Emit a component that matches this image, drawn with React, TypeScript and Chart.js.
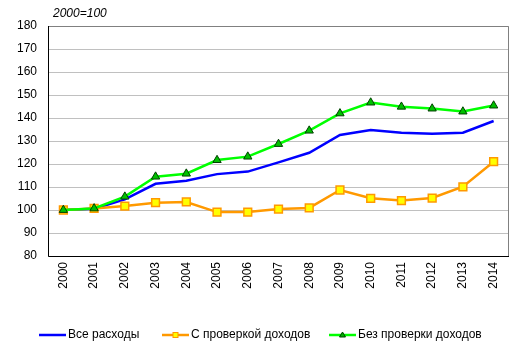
import React, { useEffect, useRef } from "react";
import { Chart, registerables } from "chart.js";

Chart.register(...registerables);

const years = ["2000","2001","2002","2003","2004","2005","2006","2007","2008","2009","2010","2011","2012","2013","2014"];
const allSpending = [100, 100.5, 104.6, 111.4, 112.7, 115.6, 116.7, 120.7, 124.9, 132.6, 134.8, 133.6, 133.2, 133.6, 138.7];
const meansTested = [100, 100.7, 101.7, 103.2, 103.5, 99.1, 99.1, 100.4, 100.9, 108.7, 105.1, 104.1, 105.2, 110.1, 121.0];
const nonMeansTested = [100, 100.7, 105.8, 114.5, 115.8, 121.7, 123.2, 128.7, 134.5, 142.0, 146.7, 144.9, 144.1, 142.8, 145.4];
const seriesNames = ["Все расходы", "С проверкой доходов", "Без проверки доходов"];
const unitNote = "2000=100";

const FONT = "Arial, 'Liberation Sans', sans-serif";

const overlayPlugin = {
  id: "overlay",
  afterDraw(chart: any) {
    const ctx = chart.ctx;
    ctx.save();
    // unit note
    ctx.font = `italic 12px ${FONT}`;
    ctx.fillStyle = "#000";
    ctx.textAlign = "left";
    ctx.textBaseline = "middle";
    ctx.fillText(unitNote, 53, 14);

    // legend
    const y = 335;
    const items = [
      { x: 39, color: "#0000ff", marker: null, text: seriesNames[0] },
      { x: 162, color: "#ff9900", marker: "rect", text: seriesNames[1] },
      { x: 329, color: "#00ff00", marker: "tri", text: seriesNames[2] },
    ];
    ctx.font = `12px ${FONT}`;
    for (const it of items) {
      ctx.strokeStyle = it.color;
      ctx.lineWidth = 2.5;
      ctx.beginPath();
      ctx.moveTo(it.x, y);
      ctx.lineTo(it.x + 27, y);
      ctx.stroke();
      const cx = it.x + 13.5;
      if (it.marker === "rect") {
        ctx.fillStyle = "#ffff00";
        ctx.strokeStyle = "#ff9900";
        ctx.lineWidth = 1;
        ctx.fillRect(cx - 2.5, y - 2.5, 5, 5);
        ctx.strokeRect(cx - 2.5, y - 2.5, 5, 5);
      } else if (it.marker === "tri") {
        ctx.fillStyle = "#00b000";
        ctx.strokeStyle = "#004000";
        ctx.lineWidth = 1;
        ctx.beginPath();
        ctx.moveTo(cx, y - 3);
        ctx.lineTo(cx + 3, y + 2);
        ctx.lineTo(cx - 3, y + 2);
        ctx.closePath();
        ctx.fill();
        ctx.stroke();
      }
      ctx.fillStyle = "#000";
      ctx.textAlign = "left";
      ctx.fillText(it.text, it.x + 29, y);
    }

    // plot border: left & bottom black
    const a = chart.chartArea;
    ctx.strokeStyle = "#000";
    ctx.lineWidth = 1;
    ctx.beginPath();
    ctx.moveTo(Math.round(a.left) + 0.5, a.top);
    ctx.lineTo(Math.round(a.left) + 0.5, Math.round(a.bottom) + 0.5);
    ctx.lineTo(a.right, Math.round(a.bottom) + 0.5);
    ctx.stroke();
    ctx.restore();
  },
  beforeDatasetsDraw(chart: any) {
    const ctx = chart.ctx;
    const a = chart.chartArea;
    ctx.save();
    ctx.strokeStyle = "#808080";
    ctx.lineWidth = 1;
    ctx.beginPath();
    ctx.moveTo(a.left, Math.round(a.top) + 0.5);
    ctx.lineTo(Math.round(a.right) - 0.5, Math.round(a.top) + 0.5);
    ctx.lineTo(Math.round(a.right) - 0.5, a.bottom);
    ctx.stroke();
    ctx.restore();
  },
};

export default function App() {
  const ref = useRef<HTMLCanvasElement>(null);
  useEffect(() => {
    const chart = new Chart(ref.current!, {
      type: "line",
      data: {
        labels: years,
        datasets: [
          {
            label: seriesNames[0],
            data: allSpending,
            borderColor: "#0000ff",
            borderWidth: 2.5,
            pointRadius: 0,
            tension: 0,
            order: 3,
          },
          {
            label: seriesNames[1],
            data: meansTested,
            borderColor: "#ff9900",
            borderWidth: 2.5,
            pointStyle: "rect",
            pointRadius: 5.5,
            pointBackgroundColor: "#ffff00",
            pointBorderColor: "#ff9900",
            pointBorderWidth: 1.5,
            tension: 0,
            order: 2,
          },
          {
            label: seriesNames[2],
            data: nonMeansTested,
            borderColor: "#00ff00",
            borderWidth: 2.5,
            pointStyle: "triangle",
            pointRadius: 4.8,
            pointBackgroundColor: "#00c000",
            pointBorderColor: "#004000",
            pointBorderWidth: 1,
            tension: 0,
            order: 1,
          },
        ],
      },
      options: {
        responsive: false,
        animation: false,
        layout: { padding: { top: 26, right: 13, left: 0, bottom: 0 } },
        plugins: {
          legend: { display: false },
          title: { display: false },
          tooltip: { enabled: false },
        },
        scales: {
          x: {
            offset: true,
            grid: { display: false, drawTicks: false },
            border: { display: false },
            ticks: {
              minRotation: 90,
              maxRotation: 90,
              padding: 6,
              color: "#000",
              font: { family: FONT, size: 12 },
            },
            afterFit: (s: any) => {
              s.height = 101;
            },
          },
          y: {
            min: 80,
            max: 180,
            grid: { color: "#c0c0c0", drawTicks: false },
            border: { display: false },
            ticks: {
              stepSize: 10,
              padding: 11,
              color: "#000",
              font: { family: FONT, size: 12 },
            },
            afterFit: (s: any) => {
              s.width = 48;
            },
          },
        },
      },
      plugins: [overlayPlugin],
    });
    return () => chart.destroy();
  }, []);
  return (
    <div style={{ position: "absolute", left: 0, top: 0, width: 522, height: 357, background: "#fff" }}>
      <canvas ref={ref} width={522} height={357} />
    </div>
  );
}
